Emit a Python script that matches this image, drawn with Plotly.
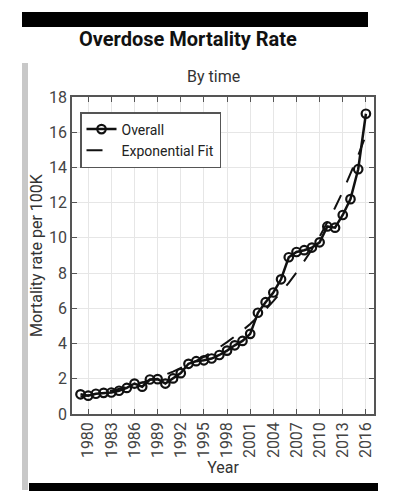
import plotly.graph_objects as go

years = list(range(1979, 2017))
overall = [1.12, 1.04, 1.15, 1.20, 1.22, 1.32, 1.48, 1.73, 1.55, 1.96,
           1.98, 1.73, 2.02, 2.32, 2.85, 3.00, 3.05, 3.15, 3.35, 3.60,
           3.90, 4.15, 4.55, 5.75, 6.35, 6.90, 7.65, 8.90, 9.20, 9.30,
           9.45, 9.75, 10.65, 10.58, 11.30, 12.20, 13.90, 17.05]
exp_fit = [0.98, 1.05, 1.13, 1.22, 1.32, 1.42, 1.53, 1.65, 1.78, 1.92,
           2.07, 2.23, 2.41, 2.60, 2.80, 3.02, 3.25, 3.51, 3.78, 4.08,
           4.40, 4.74, 5.11, 5.51, 5.94, 6.41, 6.91, 7.45, 8.03, 8.66,
           9.34, 10.07, 10.86, 11.71, 12.63, 13.61, 14.68, 15.83]
x_ticks = list(range(1980, 2017, 3))
y_ticks = list(range(0, 19, 2))

FONT = "Roboto, Liberation Sans, sans-serif"

fig = go.Figure()
fig.add_trace(go.Scatter(
    x=years, y=overall, name="Overall", mode="lines+markers",
    line=dict(color="#111111", width=2.5),
    marker=dict(symbol="circle-open", size=8.5, color="#111111", line=dict(width=2.2)),
))
fig.add_trace(go.Scatter(
    x=years, y=exp_fit, name="Exponential Fit", mode="lines",
    line=dict(color="#111111", width=2, dash="16px,14px"),
))

axis_common = dict(
    showline=True, linecolor="#555555", linewidth=1.5, mirror="ticks",
    ticks="inside", ticklen=5, tickcolor="#555555", tickwidth=1.2,
    showgrid=True, gridcolor="#e6e6e6", gridwidth=1.2, zeroline=False,
    tickfont=dict(family=FONT, size=16, color="#444444"),
)

fig.update_xaxes(range=[1977.9, 2017.05], tickvals=x_ticks, tickangle=-90,
                 title=dict(text="Year", font=dict(family=FONT, size=16, color="#333333"), standoff=5),
                 **axis_common)
fig.update_yaxes(range=[0, 18], tickvals=y_ticks,
                 title=dict(text="Mortality rate per 100K", font=dict(family=FONT, size=16, color="#333333"), standoff=2),
                 **axis_common)

# page pixel -> paper coordinate (page has an 8px body margin)
def px_x(p):
    return (p - 72) / 302.0

def px_y(p):
    return (414 - p) / 317.0

shapes = [
    dict(type="rect", xref="paper", yref="paper", x0=px_x(22), x1=px_x(368), y0=px_y(27), y1=px_y(12),
         fillcolor="#000000", line=dict(width=0), layer="above"),
    dict(type="rect", xref="paper", yref="paper", x0=px_x(22), x1=px_x(28), y0=px_y(490), y1=px_y(63),
         fillcolor="#c8c8c8", line=dict(width=0), layer="above"),
    dict(type="rect", xref="paper", yref="paper", x0=px_x(29), x1=px_x(378), y0=px_y(491), y1=px_y(483),
         fillcolor="#000000", line=dict(width=0), layer="above"),
]

annotations = [
    dict(text="<b>Overdose Mortality Rate</b>", xref="paper", yref="paper", x=px_x(188), y=px_y(39),
         xanchor="center", yanchor="middle", showarrow=False,
         font=dict(family=FONT, size=20, color="#111111")),
    dict(text="By time", xref="paper", yref="paper", x=px_x(213), y=px_y(77),
         xanchor="center", yanchor="middle", showarrow=False,
         font=dict(family=FONT, size=16, color="#333333")),
]

fig.update_layout(
    width=386, height=492,
    margin=dict(l=64, r=20, t=89, b=86),
    paper_bgcolor="white", plot_bgcolor="white",
    shapes=shapes, annotations=annotations,
    showlegend=True,
    legend=dict(x=px_x(80), y=px_y(112), xanchor="left", yanchor="top",
                bgcolor="white", bordercolor="#555555", borderwidth=1.5,
                font=dict(family=FONT, size=14, color="#222222"),
                tracegroupgap=0, itemwidth=30),
)

fig.write_html("out.html")
